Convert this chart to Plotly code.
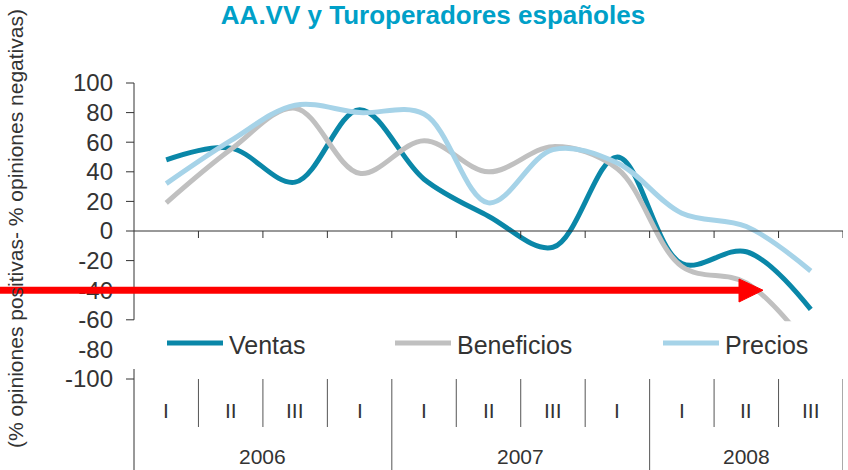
import plotly.graph_objects as go

# ---- data ----
quarters = ["I", "II", "III", "I", "I", "II", "III", "I", "I", "II", "III"]
years = ["2006", "2007", "2008"]
year_sizes = [4, 4, 3]
ventas = [48, 56, 33, 82, 35, 10, -11, 50, -22, -14, -53]
beneficios = [19, 55, 83, 39, 61, 40, 57, 42, -24, -35, -80]
precios = [32, 61, 85, 80, 79, 19, 55, 46, 12, 3, -27]
series_names = ["Ventas", "Beneficios", "Precios"]
colors = ["#0A87A8", "#C0C0C0", "#A6D3E8"]
y_ticks = list(range(-100, 101, 20))
y_tick_text = [str(v) for v in y_ticks]

W, H = 848, 470
L, R, T, B = 134, 5, 83, 91
PW, PH = W - L - R, H - T - B
n = len(quarters)
xc = [i + 0.5 for i in range(n)]

def px_x(p):  # pixel x -> paper
    return (p - L) / PW

def px_y(p):  # pixel y -> paper
    return (H - B - p) / PH

def vy(v):  # value -> paper y
    return (v + 100) / 200

fig = go.Figure()
for name, vals, col in zip(series_names, [ventas, beneficios, precios], colors):
    fig.add_trace(go.Scatter(x=xc, y=vals, name=name, mode="lines",
                             line=dict(color=col, width=5, shape="spline", smoothing=1),
                             showlegend=False))

shapes = []
ax_col = "#333333"
# y axis line (upper part)
shapes.append(dict(type="line", xref="paper", yref="paper", x0=0, x1=0, y0=vy(100), y1=vy(-60),
                   line=dict(color=ax_col, width=1)))
# y ticks
for v in y_ticks:
    if v == -80:
        continue
    shapes.append(dict(type="line", xref="paper", yref="paper", x0=px_x(L - 8), x1=0, y0=vy(v), y1=vy(v),
                       line=dict(color=ax_col, width=1)))
# lower axis line
shapes.append(dict(type="line", xref="paper", yref="paper", x0=0, x1=0, y0=px_y(369), y1=px_y(H + 5),
                   line=dict(color=ax_col, width=1)))
# zero line with ticks
shapes.append(dict(type="line", xref="x", yref="y", x0=0, x1=n, y0=0, y1=0,
                   line=dict(color=ax_col, width=1)))
for k in range(1, n + 1):
    shapes.append(dict(type="line", xref="x", yref="paper", x0=k, x1=k, y0=vy(0), y1=vy(0) - 7 / PH,
                       line=dict(color=ax_col, width=1)))
# category separators
year_bounds = [0]
for s in year_sizes:
    year_bounds.append(year_bounds[-1] + s)
for k in range(1, n + 1):
    bottom = px_y(H + 5) if k in year_bounds else px_y(427)
    shapes.append(dict(type="line", xref="x", yref="paper", x0=k, x1=k, y0=vy(-100), y1=bottom,
                       line=dict(color="#555555", width=1)))
# white box behind legend
shapes.append(dict(type="rect", xref="paper", yref="paper", x0=0.0015, x1=1.01, y0=vy(-61), y1=px_y(369),
                   fillcolor="white", line=dict(width=0), layer="above"))
# legend lines
leg_x = [167, 395, 663]
for lx, col in zip(leg_x, colors):
    shapes.append(dict(type="line", xref="paper", yref="paper", x0=px_x(lx), x1=px_x(lx + 56),
                       y0=px_y(343), y1=px_y(343), line=dict(color=col, width=5), layer="above"))
# red arrow
shapes.append(dict(type="line", xref="paper", yref="paper", x0=px_x(-2), x1=px_x(742),
                   y0=vy(-40), y1=vy(-40), line=dict(color="#FF0000", width=7), layer="above"))
tip_x, base_x = px_x(763), px_x(739)
shapes.append(dict(type="path", xref="paper", yref="paper",
                   path=f"M{base_x},{px_y(279)} L{tip_x},{vy(-40)} L{base_x},{px_y(302)} Z",
                   fillcolor="#FF0000", line=dict(color="#FF0000", width=1), layer="above"))

annotations = []
font_txt = "Liberation Sans, Arial, sans-serif"
for name, lx in zip(series_names, leg_x):
    annotations.append(dict(text=name, xref="paper", yref="paper", x=px_x(lx + 60), y=px_y(345),
                            xanchor="left", yanchor="middle", showarrow=False,
                            font=dict(family=font_txt, size=25, color="#333333")))
for i, q in enumerate(quarters):
    annotations.append(dict(text=q, xref="x", yref="paper", x=xc[i], y=px_y(410),
                            xanchor="center", yanchor="middle", showarrow=False,
                            font=dict(family=font_txt, size=21, color="#333333")))
for yr, a, b in zip(years, year_bounds[:-1], year_bounds[1:]):
    annotations.append(dict(text=yr, xref="x", yref="paper", x=(a + b) / 2, y=px_y(456),
                            xanchor="center", yanchor="middle", showarrow=False,
                            font=dict(family=font_txt, size=21, color="#333333")))
annotations.append(dict(text="(% opiniones positivas- % opiniones negativas)", xref="paper", yref="paper",
                        x=px_x(15), y=px_y(229), textangle=-90, xanchor="center", yanchor="middle",
                        showarrow=False, font=dict(family=font_txt, size=21, color="#333333")))

fig.update_layout(
    width=W, height=H,
    margin=dict(l=L, r=R, t=T, b=B),
    paper_bgcolor="white", plot_bgcolor="white",
    title=dict(text="<b>AA.VV y Turoperadores españoles</b>", x=433 / W, xanchor="center",
               y=1 - 15 / H, yanchor="middle",
               font=dict(family=font_txt, size=26, color="#00A0C8")),
    xaxis=dict(range=[0, n], showgrid=False, zeroline=False, showline=False,
               showticklabels=False, ticks=""),
    yaxis=dict(range=[-100, 100], tickvals=y_ticks, ticktext=y_tick_text, showgrid=False,
               zeroline=False, showline=False, ticks="", ticklabelstandoff=20,
               tickfont=dict(family=font_txt, size=24, color="#333333")),
    shapes=shapes,
    annotations=annotations,
)

fig.write_html("out.html", config={"displayModeBar": False},
               post_script="document.body.style.margin='0';document.body.style.overflow='hidden';")
